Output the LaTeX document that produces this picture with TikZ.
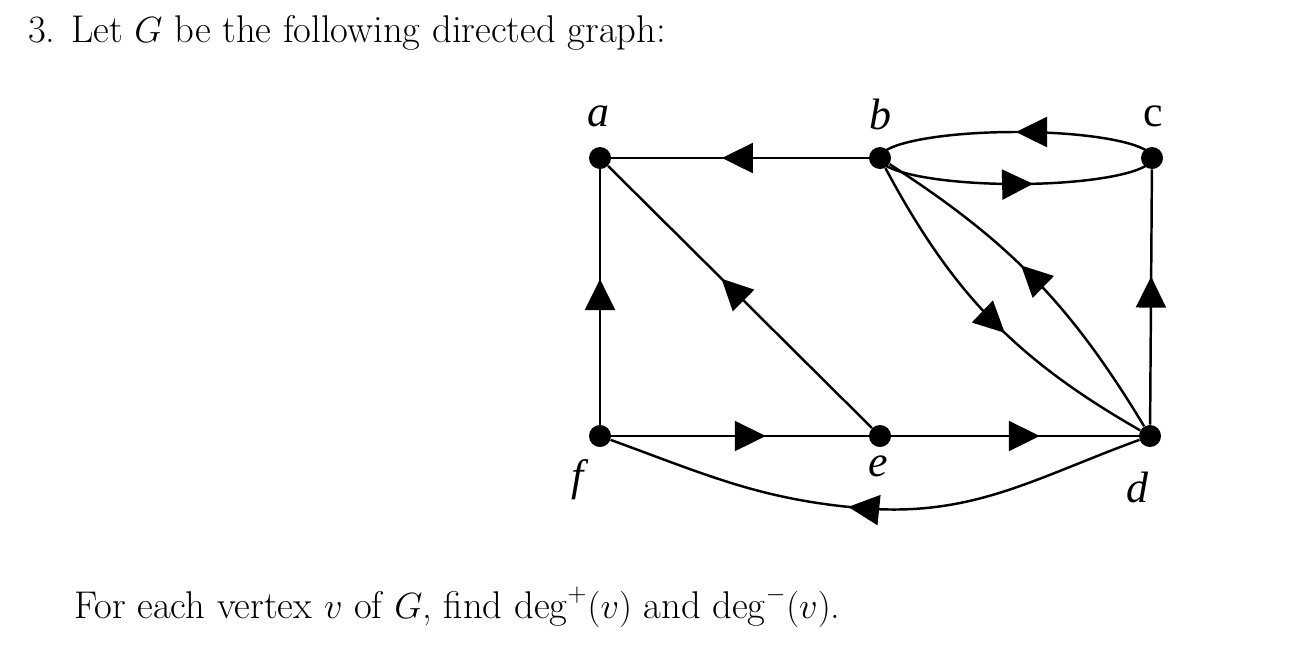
\documentclass[tikz,border=0pt]{standalone}
\usepackage{fontspec}
\newfontfamily\lab{Liberation Serif}
\usetikzlibrary{arrows.meta,decorations.markings}
\begin{document}
\begin{tikzpicture}[x=0.02cm,y=-0.02cm,
  v/.style={circle,fill=black,inner sep=0pt,minimum size=0.44cm},
  lbl/.style={font=\lab\fontsize{25}{28}\selectfont},
  e/.style={line width=1.4pt},
  m/.style={e,decoration={markings,mark=at position #1 with {\arrow{Triangle[length=0.62cm,width=0.6cm]}}},postaction=decorate},
  m/.default=0.5]
\useasboundingbox (0,0) rectangle (1310,650);
\node[anchor=west,font=\fontsize{22}{26}\selectfont] (t1) at (22,33) {3. Let $G$ be the following directed graph:};
\node[anchor=west,font=\fontsize{22}{26}\selectfont] (t2) at (68,607) {For each vertex $v$ of $G$, find $\deg^+(v)$ and $\deg^-(v)$.};
\node[v] (a) at (600,158) {};
\node[v] (b) at (880,158) {};
\node[v] (c) at (1152,158) {};
\node[v] (f) at (600,436) {};
\node[v] (e) at (880,436) {};
\node[v] (d) at (1150,436) {};
\node[lbl] (la) at (598,116) {\itshape a};
\node[lbl] (lb) at (880,114) {\itshape b};
\node[lbl] (lc) at (1153,116) {c};
\node[lbl] (lf) at (578,480) {\itshape f};
\node[lbl] (le) at (878,466) {\itshape e};
\node[lbl] (ld) at (1137,487) {\itshape d};
\draw[m=0.57] (b) -- (a);
\draw[m=0.57] (e) -- (a);
\draw[m=0.57] (f) -- (a);
\draw[m=0.58] (d) -- (c);
\draw[m=0.6] (f) -- (e);
\draw[m=0.6] (e) -- (d);
\draw[m=0.55] (d) to[out=200,in=-5] (860,508) to[out=175,in=-20] (f);
\draw[m=0.5] (c.center) arc[start angle=0,end angle=-180,x radius=136,y radius=26];
\draw[m=0.56] (b.center) arc[start angle=180,end angle=0,x radius=136,y radius=26];
\draw[m=0.55] (b) to[bend right=16] (d);
\draw[m=0.55] (d) to[bend right=13] (b);
\end{tikzpicture}
\end{document}
